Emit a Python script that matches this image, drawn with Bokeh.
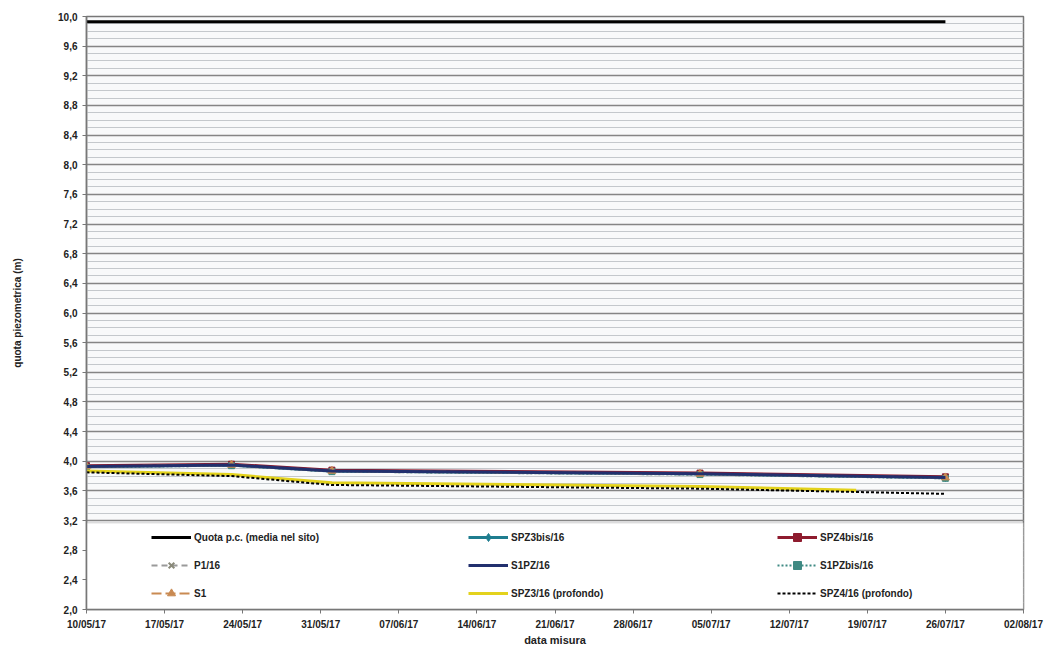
import pandas as pd
from bokeh.plotting import figure
from bokeh.models import (FixedTicker, CustomJSTickFormatter, Legend, LegendItem,
                          BoxAnnotation, Range1d)
from bokeh.embed import file_html
from bokeh.resources import INLINE

# ---- data ----
dates = ["2017-05-10", "2017-05-23", "2017-06-01", "2017-07-04", "2017-07-26"]
dates_spz3p = ["2017-05-10", "2017-05-23", "2017-06-01", "2017-07-04", "2017-07-18"]
quota_dates = ["2017-05-10", "2017-07-26"]
quota_pc = [9.93, 9.93]
spz3bis = [3.93, 3.95, 3.87, 3.83, 3.78]
spz4bis = [3.94, 3.96, 3.88, 3.84, 3.79]
p1 = [3.92, 3.94, 3.86, 3.82, 3.77]
s1pz = [3.93, 3.95, 3.87, 3.83, 3.78]
s1pzbis = [3.92, 3.94, 3.86, 3.82, 3.77]
s1 = [3.93, 3.95, 3.87, 3.83, 3.78]
spz3_prof = [3.87, 3.82, 3.71, 3.66, 3.61]
spz4_prof = [3.85, 3.80, 3.68, 3.63, 3.56]

x_tick_dates = ["2017-05-10", "2017-05-17", "2017-05-24", "2017-05-31", "2017-06-07",
                "2017-06-14", "2017-06-21", "2017-06-28", "2017-07-05", "2017-07-12",
                "2017-07-19", "2017-07-26", "2017-08-02"]
y_ticks = [2.0, 2.4, 2.8, 3.2, 3.6, 4.0, 4.4, 4.8, 5.2, 5.6, 6.0, 6.4, 6.8, 7.2,
           7.6, 8.0, 8.4, 8.8, 9.2, 9.6, 10.0]
y_minor = [round(2.0 + 0.1 * i, 1) for i in range(81)]


def dt(lst):
    return pd.to_datetime(lst)


def ms(lst):
    return [pd.Timestamp(d).value / 1e6 for d in lst]


FONT = "Liberation Sans"

p = figure(width=1055, height=653, x_axis_type="datetime",
           output_backend="svg", toolbar_location=None,
           min_border_left=86, min_border_right=32, min_border_top=16,
           min_border_bottom=44)
xt = ms(x_tick_dates)
p.x_range = Range1d(xt[0], xt[-1])
p.y_range = Range1d(2.0, 10.0)

p.background_fill_color = "#f8f9fa"
p.outline_line_color = "#777777"
p.outline_line_width = 1.5

p.xaxis.ticker = FixedTicker(ticks=xt)
p.xaxis.formatter = CustomJSTickFormatter(code="""
const d = new Date(tick);
const dd = String(d.getUTCDate()).padStart(2,'0');
const mm = String(d.getUTCMonth()+1).padStart(2,'0');
const yy = String(d.getUTCFullYear()).slice(2);
return dd + '/' + mm + '/' + yy;
""")
p.yaxis.ticker = FixedTicker(ticks=y_ticks, minor_ticks=y_minor)
p.yaxis.formatter = CustomJSTickFormatter(code="return tick.toFixed(1).replace('.', ',');")

for ax in (p.xaxis, p.yaxis):
    ax.major_label_text_font = FONT
    ax.major_label_text_font_style = "bold"
    ax.major_label_text_font_size = "10px"
    ax.major_label_text_color = "#222222"
    ax.axis_line_color = "#777777"
    ax.axis_line_width = 1.5
    ax.major_tick_line_color = "#777777"
    ax.minor_tick_line_color = None
    ax.major_tick_out = 4
    ax.major_tick_in = 0
    ax.axis_label_text_font = FONT
    ax.axis_label_text_font_style = "bold"
    ax.axis_label_text_color = "#222222"

p.yaxis.axis_label = "quota piezometrica (m)"
p.yaxis.axis_label_text_font_size = "10px"
p.yaxis.axis_label_standoff = 32
p.xaxis.axis_label = "data misura"
p.xaxis.axis_label_text_font_size = "11px"
p.xaxis.axis_label_standoff = 1

p.xgrid.grid_line_color = None
p.ygrid.grid_line_color = "#858585"
p.ygrid.grid_line_width = 1.5
p.ygrid.minor_grid_line_color = "#c4c8cc"
p.ygrid.minor_grid_line_width = 1

# white legend panel
p.add_layout(BoxAnnotation(top=3.17, bottom=2.0, fill_color="white", fill_alpha=1.0,
                           line_color="#999999", line_width=1.5, level="underlay"))

# ---- series ----
r_quota = p.line(dt(quota_dates), quota_pc, line_color="black", line_width=3)

r_spz3bis = p.line(dt(dates), spz3bis, line_color="#1f7d8f", line_width=3)
m_spz3bis = p.scatter(dt(dates), spz3bis, marker="diamond", size=8, color="#1f7d8f")
r_spz4bis = p.line(dt(dates), spz4bis, line_color="#8e1b2e", line_width=3)
m_spz4bis = p.scatter(dt(dates), spz4bis, marker="square", size=6, color="#8e1b2e")
r_p1 = p.line(dt(dates), p1, line_color="#9a9a9a", line_width=2, line_dash="6 4")
m_p1 = p.scatter(dt(dates), p1, marker="x", size=7, line_color="#8a8a7a", line_width=2)
r_s1pzbis = p.line(dt(dates), s1pzbis, line_color="#3f8a83", line_width=2, line_dash="2 2")
m_s1pzbis = p.scatter(dt(dates), s1pzbis, marker="square", size=6, color="#3f8a83")
r_s1 = p.line(dt(dates), s1, line_color="#c98a52", line_width=2, line_dash="10 4")
m_s1 = p.scatter(dt(dates), s1, marker="triangle", size=8, color="#c98a52")
r_s1pz = p.line(dt(dates), s1pz, line_color="#22306e", line_width=3)

r_spz3p = p.line(dt(dates_spz3p), spz3_prof, line_color="#e3d21c", line_width=3)
r_spz4p = p.line(dt(dates), spz4_prof, line_color="black", line_width=2, line_dash="3 2")


def make_legend(items, x):
    lg = Legend(items=items, location=(x, 6), orientation="vertical",
                background_fill_alpha=0, border_line_color=None,
                label_text_font=FONT, label_text_font_style="bold",
                label_text_font_size="10px", label_text_color="#222222",
                glyph_width=40, glyph_height=20, label_height=20,
                label_standoff=3, spacing=8, padding=0, margin=0)
    p.add_layout(lg)


make_legend([
    LegendItem(label="Quota p.c. (media nel sito)", renderers=[r_quota]),
    LegendItem(label="P1/16", renderers=[r_p1, m_p1]),
    LegendItem(label="S1", renderers=[r_s1, m_s1]),
], 65)
make_legend([
    LegendItem(label="SPZ3bis/16", renderers=[r_spz3bis, m_spz3bis]),
    LegendItem(label="S1PZ/16", renderers=[r_s1pz]),
    LegendItem(label="SPZ3/16 (profondo)", renderers=[r_spz3p]),
], 382)
make_legend([
    LegendItem(label="SPZ4bis/16", renderers=[r_spz4bis, m_spz4bis]),
    LegendItem(label="S1PZbis/16", renderers=[r_s1pzbis, m_s1pzbis]),
    LegendItem(label="SPZ4/16 (profondo)", renderers=[r_spz4p]),
], 691)

open("out.html", "w").write(file_html(p, INLINE))
